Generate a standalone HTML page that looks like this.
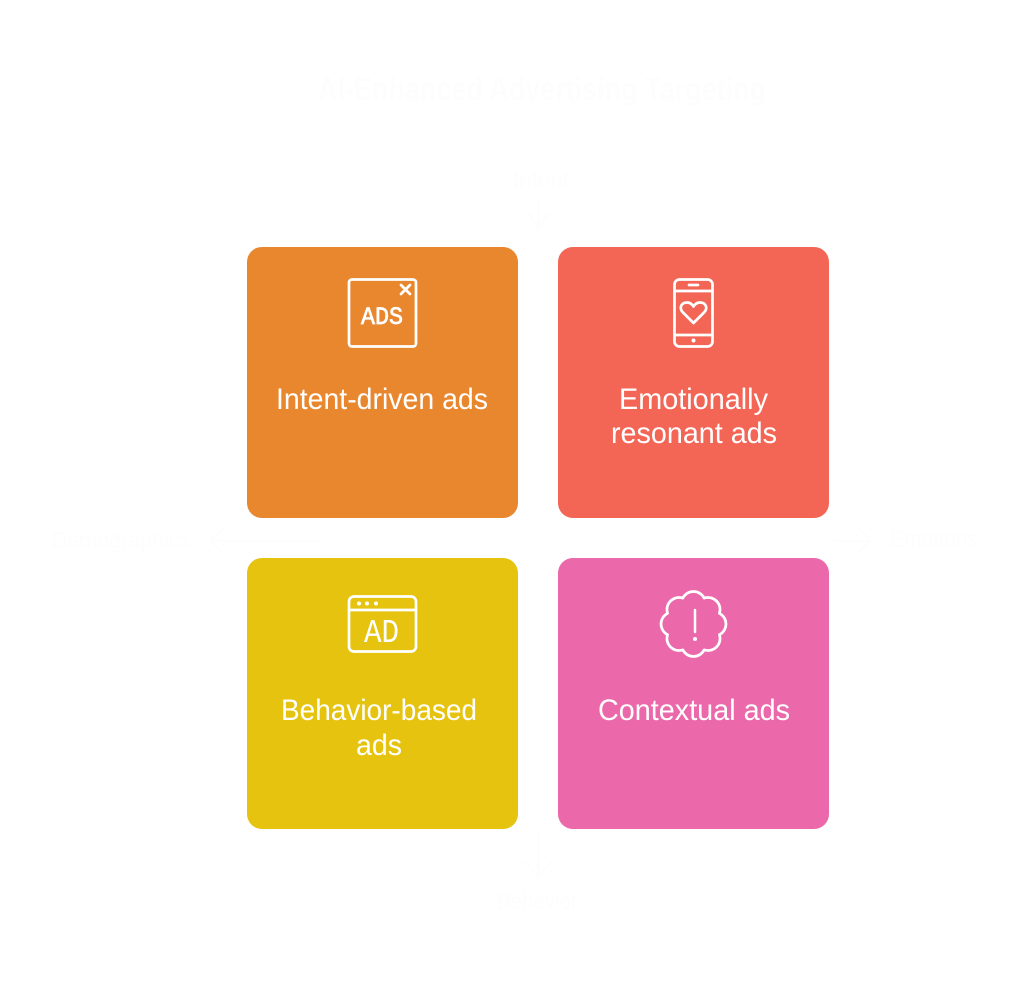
<!DOCTYPE html>
<html lang="en">
<head>
<meta charset="utf-8">
<title>AI-Enhanced Advertising Targeting</title>
<style>
html,body{margin:0;padding:0;background:#fff;}
svg{display:block;}
text{font-family:"Liberation Sans",sans-serif;}
.c{fill:#fff;font-size:29.500px;}
.f{fill:#fdfdfd;}
.i{fill:none;stroke:#fff;stroke-width:2.700;stroke-linejoin:round;stroke-linecap:round;}
</style>
</head>
<body>
<svg width="1024" height="989" viewBox="0 0 1024 989" xmlns="http://www.w3.org/2000/svg">
<rect width="1024" height="989" fill="#fff"/>

<!-- Faint axis labels and title -->
<text class="f" x="318" y="100" font-size="32" font-weight="bold" textLength="448" lengthAdjust="spacingAndGlyphs">AI-Enhanced Advertising Targeting</text>
<text class="f" x="513" y="188" font-size="24" textLength="56" lengthAdjust="spacingAndGlyphs">Intent</text>
<text class="f" x="52" y="548" font-size="24" textLength="138" lengthAdjust="spacingAndGlyphs">Demographics</text>
<text class="f" x="890" y="547" font-size="24" textLength="88" lengthAdjust="spacingAndGlyphs">Emotions</text>
<text class="f" x="497" y="909" font-size="24" textLength="81" lengthAdjust="spacingAndGlyphs">Behavior</text>

<!-- Faint arrows -->
<g fill="none" stroke="#fdfdfd" stroke-width="2" stroke-linecap="round" stroke-linejoin="round">
<path d="M538 198V232M529 214L538 228L548 214"/>
<path d="M320 541H212M224 528L211 541L222 552"/>
<path d="M835 541H870M858 528L871 541L858 552"/>
<path d="M538 830V878M525 862L538 876L552 862"/>
</g>

<!-- Cards -->
<rect x="247" y="247" width="271" height="271" rx="15" fill="#E9872F"/>
<rect x="558" y="247" width="271" height="271" rx="15" fill="#F36555"/>
<rect x="247" y="558" width="271" height="271" rx="15" fill="#E5C30E"/>
<rect x="558" y="558" width="271" height="271" rx="15" fill="#EB69AA"/>

<!-- Ad window icon -->
<rect class="i" x="349" y="279.500" width="67" height="67" rx="3"/>
<path class="i" stroke-width="3" d="M401 285L410 294M410 285L401 294"/>
<text x="361" y="324" fill="#fff" stroke="#fff" stroke-width="0.700" font-size="25" textLength="42" lengthAdjust="spacingAndGlyphs" style="font-family:'Liberation Mono',monospace">ADS</text>

<!-- Phone icon -->
<rect class="i" x="674.500" y="279.500" width="38" height="67" rx="5"/>
<path class="i" d="M675 291H712M675 335H712M689 285H698"/>
<circle cx="693.500" cy="340.500" r="2" fill="#fff"/>
<path class="i" d="M693.500 323L682.500 312C678.500 307 682 302.500 687 302.500C690 302.500 692 304 693.500 306.500C695 304 697 302.500 700 302.500C705 302.500 708.500 307 704.500 312Z"/>

<!-- Browser icon -->
<rect class="i" x="349" y="596.500" width="67" height="55" rx="5"/>
<path class="i" d="M349 610H416"/>
<circle cx="359" cy="603.500" r="2" fill="#fff"/>
<circle cx="367" cy="603.500" r="2" fill="#fff"/>
<circle cx="376" cy="603.500" r="2" fill="#fff"/>
<text x="364" y="642" fill="#fff" font-size="33" textLength="35" lengthAdjust="spacingAndGlyphs" style="font-family:'Liberation Mono',monospace">AD</text>

<!-- Alert cloud icon -->
<path class="i" d="M704.200 598.100A12 12 0 0 1 719.400 613.300A12 12 0 0 1 719.400 634.700A12 12 0 0 1 704.200 649.900A12 12 0 0 1 682.800 649.900A12 12 0 0 1 667.600 634.700A12 12 0 0 1 667.600 613.300A12 12 0 0 1 682.800 598.100A12 12 0 0 1 704.200 598.100Z"/>
<path d="M695 610V632" stroke="#fff" stroke-width="2.500" stroke-linecap="round" fill="none"/>
<circle cx="695" cy="639" r="2" fill="#fff"/>

<!-- Card labels -->
<text class="c" x="276" y="409" textLength="212" lengthAdjust="spacingAndGlyphs">Intent-driven ads</text>
<text class="c" x="619" y="409" textLength="149" lengthAdjust="spacingAndGlyphs">Emotionally</text>
<text class="c" x="611" y="443" textLength="166" lengthAdjust="spacingAndGlyphs">resonant ads</text>
<text class="c" x="281" y="720" textLength="196" lengthAdjust="spacingAndGlyphs">Behavior-based</text>
<text class="c" x="356" y="755" textLength="46" lengthAdjust="spacingAndGlyphs">ads</text>
<text class="c" x="598" y="720" textLength="192" lengthAdjust="spacingAndGlyphs">Contextual ads</text>
</svg>
</body>
</html>
